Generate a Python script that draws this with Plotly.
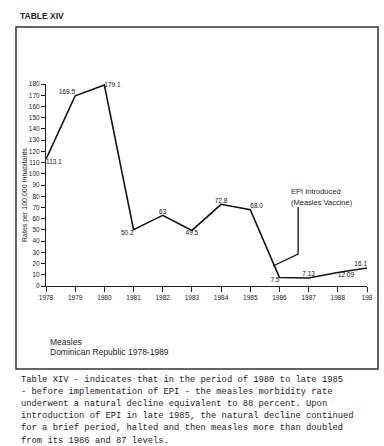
import plotly.graph_objects as go

# ---- data ----
years = [1978, 1979, 1980, 1981, 1982, 1983, 1984, 1985, 1986, 1987, 1988, 1989]
rates = [113.1, 169.5, 179.1, 50.2, 63, 49.5, 72.8, 68.0, 7.5, 7.13, 12.09, 16.1]
rate_labels = ["113.1", "169.5", "179.1", "50.2", "63", "49.5", "72.8", "68.0", "7.5", "7.13", "12.09", "16.1"]
label_positions = ["bottom right", "top left", "middle right", "bottom left", "top center",
                   "bottom center", "top center", "top right", "bottom left", "top center",
                   "bottom right", "top left"]
x_tick_labels = ["1978", "1979", "1980", "1981", "1982", "1983", "1984", "1985",
                 "1986", "1987", "1988", "198"]
y_ticks = list(range(0, 190, 10))

# callout (EPI introduced) path in data units
callout_x = [1986.64, 1986.64, 1985.78]
callout_y = [70.4, 28.5, 17.8]

paragraph = [
    "Table XIV - indicates that in the period of 1980 to late 1985",
    "- before implementation of EPI - the measles morbidity rate",
    "underwent a natural decline equivalent to 88 percent. Upon",
    "introduction of EPI in late 1985, the natural decline continued",
    "for a brief period, halted and then measles more than doubled",
    "from its 1986 and 87 levels.",
]

SANS = "Liberation Sans, Arial, sans-serif"
MONO = "Liberation Mono, Courier New, monospace"

fig = go.Figure()
fig.add_trace(go.Scatter(
    x=years, y=rates, mode="lines+text",
    line=dict(color="#111111", width=1.6),
    text=rate_labels, textposition=label_positions,
    textfont=dict(family=SANS, size=6.5, color="#111111"),
    hoverinfo="skip", showlegend=False, cliponaxis=False,
))
fig.add_trace(go.Scatter(
    x=callout_x, y=callout_y, mode="lines",
    line=dict(color="#111111", width=1.3),
    hoverinfo="skip", showlegend=False,
))

W, H = 384, 446
L, R, T, B = 46, 17, 84, 160
pw, ph = W - L - R, H - T - B

def px(xp):
    return (xp - L) / pw

def py(yp):
    return (H - B - yp) / ph

annotations = [
    dict(text="<b>TABLE XIV</b>", x=px(18), y=py(16), xanchor="left", yanchor="middle",
         font=dict(family=SANS, size=8.5, color="#222222")),
    dict(text="Rates per 100,000 Inhabitants", x=px(25), y=py(195), textangle=-90,
         xanchor="center", yanchor="middle", font=dict(family=SANS, size=7, color="#222222")),
    dict(text="EPI Introduced", x=px(289), y=py(191), xanchor="left", yanchor="middle",
         font=dict(family=SANS, size=7.5, color="#222222")),
    dict(text="(Measles Vaccine)", x=px(289), y=py(202), xanchor="left", yanchor="middle",
         font=dict(family=SANS, size=7.5, color="#222222")),
    dict(text="Measles", x=px(48), y=py(342), xanchor="left", yanchor="middle",
         font=dict(family=SANS, size=8.5, color="#222222")),
    dict(text="Dominican Republic 1978-1989", x=px(48), y=py(351.5), xanchor="left", yanchor="middle",
         font=dict(family=SANS, size=8.5, color="#222222")),
]
for i, line in enumerate(paragraph):
    annotations.append(dict(text=line, x=px(19), y=py(380 + i * 12.1), xanchor="left",
                            yanchor="middle", font=dict(family=MONO, size=8.8, color="#222222")))
for a in annotations:
    a.update(xref="paper", yref="paper", showarrow=False)

fig.update_layout(
    width=W, height=H,
    margin=dict(l=L, r=R, t=T, b=B, pad=0),
    paper_bgcolor="white", plot_bgcolor="white",
    annotations=annotations,
    shapes=[dict(type="rect", xref="paper", yref="paper",
                 x0=px(16), x1=px(378), y0=py(369), y1=py(27),
                 line=dict(color="#333333", width=1.5))],
    xaxis=dict(range=[1978, 1989], tickvals=years, ticktext=x_tick_labels,
               showgrid=False, zeroline=False, showline=True, linecolor="#222222", linewidth=1,
               ticks="outside", ticklen=5, tickcolor="#222222",
               tickfont=dict(family=SANS, size=6.5, color="#222222")),
    yaxis=dict(range=[0, 180], tickvals=y_ticks,
               showgrid=False, zeroline=False, showline=True, linecolor="#222222", linewidth=1,
               ticks="outside", ticklen=4, tickcolor="#222222",
               tickfont=dict(family=SANS, size=6.5, color="#222222")),
)

fig.write_html(
    "out.html",
    config={"displayModeBar": False},
    post_script="document.body.style.margin='0';document.body.style.overflow='hidden';",
)
